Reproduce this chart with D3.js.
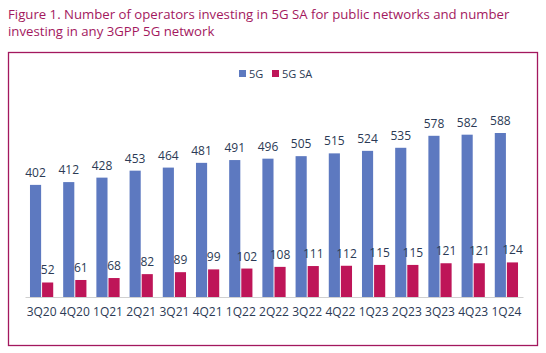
<!DOCTYPE html>
<html>
<head>
<meta charset="utf-8">
<script src="https://cdn.jsdelivr.net/npm/d3@7"></script>
<style>
  body { margin: 0; background: #fff; }
  text { font-family: "Open Sans", sans-serif; }
</style>
</head>
<body>
<script>
// data
var quarters = ["3Q20", "4Q20", "1Q21", "2Q21", "3Q21", "4Q21", "1Q22", "2Q22",
                "3Q22", "4Q22", "1Q23", "2Q23", "3Q23", "4Q23", "1Q24"];
var total5G = [402, 412, 428, 453, 464, 481, 491, 496, 505, 515, 524, 535, 578, 582, 588];
var sa5G = [52, 61, 68, 82, 89, 99, 102, 108, 111, 112, 115, 115, 121, 121, 124];
var seriesNames = ["5G", "5G SA"];

var width = 546, height = 353;
var blue = "#5D79C0", red = "#BE1558", accent = "#A3185E", ink = "#2B3A55";

var svg = d3.select("body").append("svg")
    .attr("width", width)
    .attr("height", height);

// title
svg.append("text")
    .attr("x", 8).attr("y", 19)
    .attr("fill", accent)
    .style("font-size", "13.2px")
    .text("Figure 1. Number of operators investing in 5G SA for public networks and number");
svg.append("text")
    .attr("x", 8).attr("y", 36)
    .attr("fill", accent)
    .style("font-size", "13.2px")
    .text("investing in any 3GPP 5G network");

// frame
svg.append("rect")
    .attr("x", 8.5).attr("y", 52.5)
    .attr("width", 529).attr("height", 293)
    .attr("fill", "none")
    .attr("stroke", accent)
    .attr("stroke-width", 1.3);

// scales
var x = d3.scaleBand()
    .domain(quarters)
    .range([25, 523])
    .paddingInner(0.3)
    .paddingOuter(0.15);

var x1 = d3.scaleBand()
    .domain(seriesNames)
    .range([0, x.bandwidth()])
    .paddingInner(0.08);

var y = d3.scaleLinear()
    .domain([0, 700])
    .range([297, 297 - 700 * 0.2789]);

// x axis
var xAxis = svg.append("g")
    .attr("transform", "translate(0,297)")
    .call(d3.axisBottom(x).tickSize(0).tickPadding(10));
xAxis.select(".domain").attr("stroke", "#d0d0d0");
xAxis.selectAll("text")
    .attr("fill", ink)
    .style("font-size", "12px")
    .style("font-family", "'Open Sans', sans-serif");

var groups = svg.selectAll("g.q")
    .data(quarters)
    .enter()
    .append("g")
    .attr("class", "q")
    .attr("transform", function(d) { return "translate(" + x(d) + ",0)"; });

var rows = [total5G, sa5G];
var colors = [blue, red];

seriesNames.forEach(function(s, k) {
    groups.append("rect")
        .attr("x", x1(s))
        .attr("width", x1.bandwidth())
        .attr("y", function(d, i) { return y(rows[k][i]); })
        .attr("height", function(d, i) { return 297 - y(rows[k][i]); })
        .attr("fill", colors[k]);

    groups.append("text")
        .attr("x", x1(s) + x1.bandwidth() / 2)
        .attr("y", function(d, i) { return y(rows[k][i]) - 8; })
        .attr("text-anchor", "middle")
        .attr("fill", ink)
        .style("font-size", "12px")
        .text(function(d, i) { return rows[k][i]; });
});

// legend
var legend = svg.append("g").attr("transform", "translate(239,74)");
var lx = [0, 33];
seriesNames.forEach(function(s, k) {
    legend.append("rect")
        .attr("x", lx[k]).attr("y", -4)
        .attr("width", 7).attr("height", 7)
        .attr("fill", colors[k]);
    legend.append("text")
        .attr("x", lx[k] + 10).attr("y", 4)
        .attr("fill", ink)
        .style("font-size", "11px")
        .text(s);
});
</script>
</body>
</html>
